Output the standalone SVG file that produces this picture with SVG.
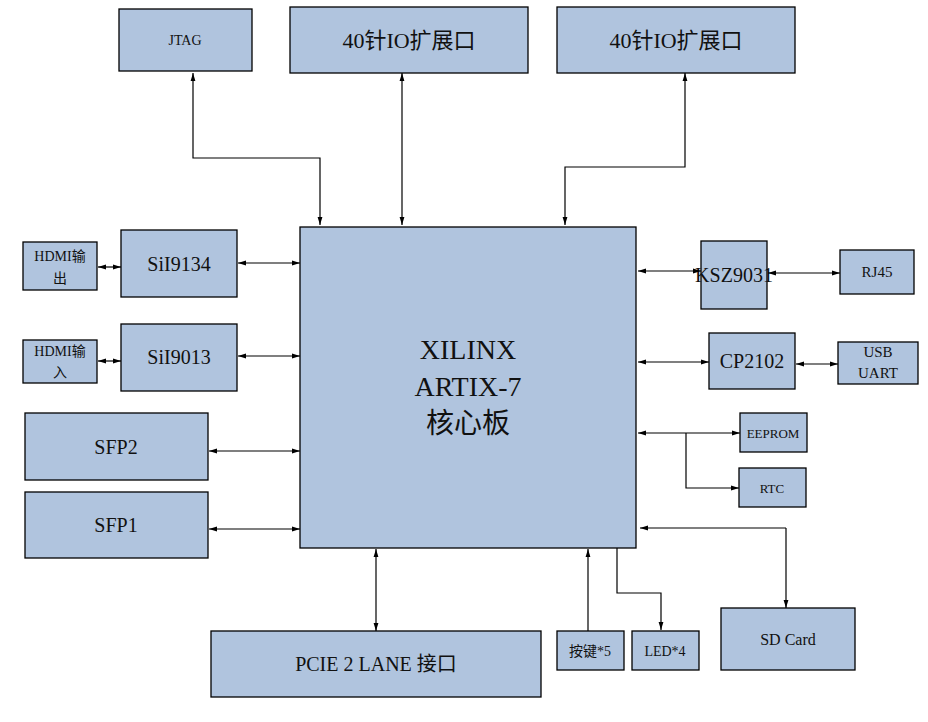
<svg xmlns="http://www.w3.org/2000/svg" width="928" height="722" viewBox="0 0 928 722">
<style>
rect{fill:#b0c4de;stroke:#000;stroke-width:1.3}
text{font-family:"Liberation Serif","Noto Sans CJK SC",serif;fill:#111;text-anchor:middle;dominant-baseline:central}
.c path{fill:none;stroke:#000;stroke-width:1.2}
</style>
<defs>
<marker id="a" viewBox="0 0 10 10" refX="10" refY="5" markerWidth="7" markerHeight="7" orient="auto-start-reverse"><path d="M0,2 L10,5 L0,8 z" fill="#000"/></marker>
</defs>
<rect x="0" y="0" width="928" height="722" style="fill:#fff;stroke:none"/>
<g id="jtag"><rect x="119" y="9" width="133" height="62"/><text x="185" y="40" font-size="14">JTAG</text></g>
<g id="io1"><rect x="290" y="7" width="238" height="66"/><text x="409" y="40" font-size="22">40针IO扩展口</text></g>
<g id="io2"><rect x="557" y="7" width="238" height="66"/><text x="676" y="40" font-size="22">40针IO扩展口</text></g>
<g id="core"><rect x="300" y="227" width="336" height="321"/><text x="468" y="349" font-size="28">XILINX</text><text x="468" y="386" font-size="28">ARTIX-7</text><text x="468" y="423" font-size="28">核心板</text></g>
<g id="hdmiout"><rect x="23" y="242" width="74" height="48"/><text x="60" y="256" font-size="14">HDMI输</text><text x="60" y="278" font-size="14">出</text></g>
<g id="sii9134"><rect x="121" y="230" width="116" height="67"/><text x="179" y="264" font-size="20">SiI9134</text></g>
<g id="hdmiin"><rect x="23" y="340" width="74" height="43"/><text x="60" y="351" font-size="14">HDMI输</text><text x="60" y="372" font-size="14">入</text></g>
<g id="sii9013"><rect x="121" y="324" width="116" height="67"/><text x="179" y="357" font-size="20">SiI9013</text></g>
<g id="sfp2"><rect x="25" y="413" width="183" height="67"/><text x="116" y="447" font-size="20">SFP2</text></g>
<g id="sfp1"><rect x="25" y="492" width="183" height="66"/><text x="116" y="525" font-size="20">SFP1</text></g>
<g id="ksz"><rect x="701" y="241" width="66" height="68"/><text x="734" y="275" font-size="20">KSZ9031</text></g>
<g id="rj45"><rect x="840" y="250" width="74" height="44"/><text x="877" y="272" font-size="15">RJ45</text></g>
<g id="cp2102"><rect x="709" y="333" width="86" height="56"/><text x="752" y="361" font-size="20">CP2102</text></g>
<g id="usb"><rect x="838" y="342" width="80" height="42"/><text x="878" y="352" font-size="15">USB</text><text x="878" y="373" font-size="15">UART</text></g>
<g id="eeprom"><rect x="740" y="413" width="67" height="39"/><text x="773" y="433" font-size="13">EEPROM</text></g>
<g id="rtc"><rect x="739" y="468" width="67" height="39"/><text x="772" y="488" font-size="13">RTC</text></g>
<g id="sd"><rect x="721" y="608" width="134" height="62"/><text x="788" y="639" font-size="16">SD Card</text></g>
<g id="pcie"><rect x="211" y="631" width="330" height="66"/><text x="376" y="664" font-size="20">PCIE 2 LANE 接口</text></g>
<g id="key"><rect x="557" y="631" width="67" height="39"/><text x="590" y="651" font-size="14">按键*5</text></g>
<g id="led"><rect x="632" y="631" width="67" height="39"/><text x="665" y="651" font-size="14">LED*4</text></g>
<g class="c">
<path d="M193,73 V158 H320 V225" marker-start="url(#a)" marker-end="url(#a)"/>
<path d="M402,73 V225" marker-start="url(#a)" marker-end="url(#a)"/>
<path d="M685,73 V167 H565 V225" marker-start="url(#a)" marker-end="url(#a)"/>
<path d="M238,263 H300" marker-start="url(#a)" marker-end="url(#a)"/>
<path d="M98,267 H121" marker-start="url(#a)" marker-end="url(#a)"/>
<path d="M238,356 H300" marker-start="url(#a)" marker-end="url(#a)"/>
<path d="M98,361 H121" marker-start="url(#a)" marker-end="url(#a)"/>
<path d="M209,451 H300" marker-start="url(#a)" marker-end="url(#a)"/>
<path d="M209,529 H300" marker-start="url(#a)" marker-end="url(#a)"/>
<path d="M638,271 H701" marker-start="url(#a)" marker-end="url(#a)"/>
<path d="M768,273 H840" marker-start="url(#a)" marker-end="url(#a)"/>
<path d="M638,362 H709" marker-start="url(#a)" marker-end="url(#a)"/>
<path d="M796,364 H838" marker-start="url(#a)" marker-end="url(#a)"/>
<path d="M638,433 H740" marker-start="url(#a)" marker-end="url(#a)"/>
<path d="M686,433 V488 H739" marker-end="url(#a)"/>
<path d="M786,528 H640" marker-end="url(#a)"/>
<path d="M786,528 V608" marker-end="url(#a)"/>
<path d="M588,631 V549" marker-end="url(#a)"/>
<path d="M617,548 V593 H661 V630" marker-end="url(#a)"/>
<path d="M376,549 V631" marker-start="url(#a)" marker-end="url(#a)"/>
</g>
</svg>
